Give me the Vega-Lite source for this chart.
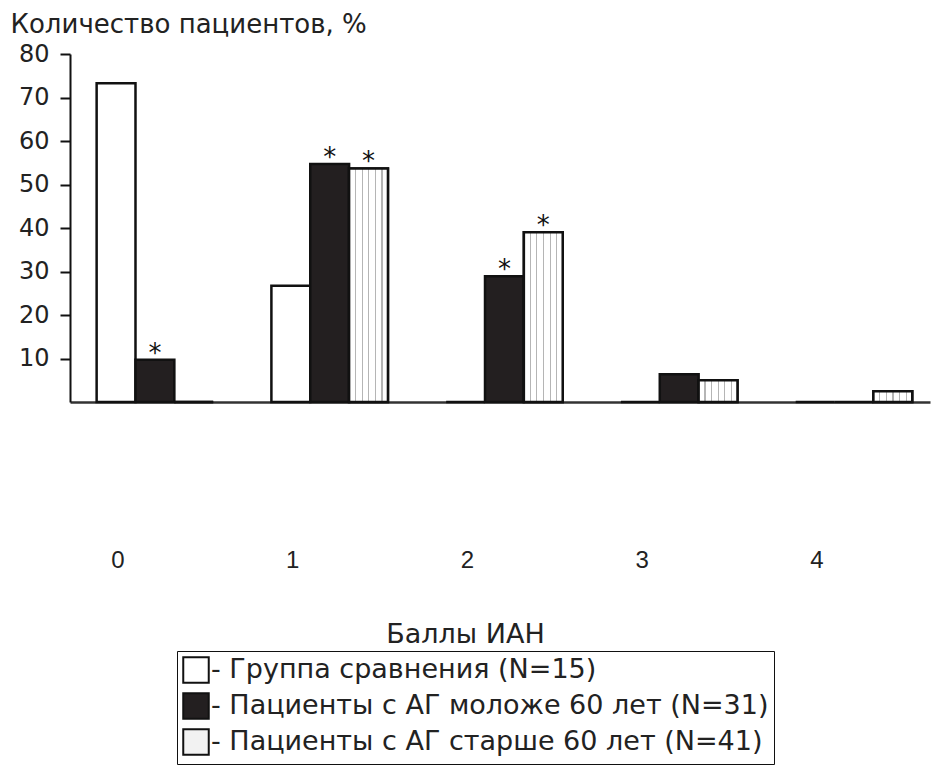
{
  "$schema": "https://vega.github.io/schema/vega-lite/v6.json",
  "width": 860,
  "height": 348,
  "autosize": "none",
  "padding": {"left": 70, "top": 54, "right": 1, "bottom": 365},
  "background": "white",
  "config": {"view": {"stroke": null}},
  "data": {"values": [
    {"score": "0", "group": "Группа сравнения (N=15)", "value": 73.3, "sig": ""},
    {"score": "0", "group": "Пациенты с АГ моложе 60 лет (N=31)", "value": 9.7, "sig": "*"},
    {"score": "0", "group": "Пациенты с АГ старше 60 лет (N=41)", "value": 0, "sig": ""},
    {"score": "1", "group": "Группа сравнения (N=15)", "value": 26.7, "sig": ""},
    {"score": "1", "group": "Пациенты с АГ моложе 60 лет (N=31)", "value": 54.7, "sig": "*"},
    {"score": "1", "group": "Пациенты с АГ старше 60 лет (N=41)", "value": 53.7, "sig": "*"},
    {"score": "2", "group": "Группа сравнения (N=15)", "value": 0, "sig": ""},
    {"score": "2", "group": "Пациенты с АГ моложе 60 лет (N=31)", "value": 28.9, "sig": "*"},
    {"score": "2", "group": "Пациенты с АГ старше 60 лет (N=41)", "value": 39.0, "sig": "*"},
    {"score": "3", "group": "Группа сравнения (N=15)", "value": 0, "sig": ""},
    {"score": "3", "group": "Пациенты с АГ моложе 60 лет (N=31)", "value": 6.4, "sig": ""},
    {"score": "3", "group": "Пациенты с АГ старше 60 лет (N=41)", "value": 5.0, "sig": ""},
    {"score": "4", "group": "Группа сравнения (N=15)", "value": 0, "sig": ""},
    {"score": "4", "group": "Пациенты с АГ моложе 60 лет (N=31)", "value": 0, "sig": ""},
    {"score": "4", "group": "Пациенты с АГ старше 60 лет (N=41)", "value": 2.5, "sig": ""}
  ]},
  "encoding": {
    "x": {
      "field": "score", "type": "nominal",
      "scale": {"paddingInner": 0.333, "paddingOuter": 0.127, "align": 0.6},
      "axis": {
        "labelAngle": 0, "ticks": false, "labelPadding": 146, "labelOffset": -37,
        "labelFont": "Liberation Sans", "labelFontSize": 24, "labelColor": "#222",
        "domainColor": "#333", "domainWidth": 2.5,
        "title": "Баллы ИАН", "titleX": 395, "titleY": 240, "titleBaseline": "alphabetic",
        "titleFont": "DejaVu Sans", "titleFontSize": 27, "titleFontWeight": "normal", "titleColor": "#222"
      }
    },
    "xOffset": {"field": "group", "type": "nominal", "sort": ["Группа сравнения (N=15)", "Пациенты с АГ моложе 60 лет (N=31)", "Пациенты с АГ старше 60 лет (N=41)"]},
    "y": {
      "field": "value", "type": "quantitative",
      "scale": {"domain": [0, 80], "nice": false},
      "axis": {
        "values": [10, 20, 30, 40, 50, 60, 70, 80], "grid": false,
        "domainColor": "#111", "domainWidth": 2, "tickColor": "#111", "tickWidth": 2, "tickSize": 10,
        "labelFont": "DejaVu Sans", "labelFontSize": 24, "labelColor": "#222", "labelPadding": 11,
        "title": "Количество пациентов, %", "titleAngle": 0, "titleAlign": "left", "titleBaseline": "alphabetic",
        "titleX": -60, "titleY": -22, "titleFont": "DejaVu Sans", "titleFontSize": 26, "titleFontWeight": "normal", "titleColor": "#222"
      }
    }
  },
  "layer": [
    {
      "mark": {"type": "bar", "stroke": "#111", "strokeWidth": 2.5},
      "encoding": {
        "fill": {
          "field": "group", "type": "nominal",
          "scale": {
            "domain": ["Группа сравнения (N=15)", "Пациенты с АГ моложе 60 лет (N=31)", "Пациенты с АГ старше 60 лет (N=41)"],
            "range": ["#ffffff", "#231f20", "#f2f2f2"]
          },
          "legend": {
            "orient": "none", "legendX": 107, "legendY": 597, "title": null,
            "labelExpr": "'- ' + datum.label",
            "symbolType": "square", "symbolSize": 650, "symbolStrokeColor": "#111", "symbolStrokeWidth": 2,
            "labelFont": "DejaVu Sans", "labelFontSize": 27, "labelColor": "#222", "labelOffset": 1, "labelLimit": 0,
            "rowPadding": 2, "padding": 5, "strokeColor": "#111", "fillColor": "white", "cornerRadius": 0
          }
        }
      }
    },
    {
      "transform": [{"filter": "datum.group === 'Пациенты с АГ старше 60 лет (N=41)'"}],
      "mark": {"type": "bar", "stroke": "#111", "strokeWidth": 2.5,
        "fill": {"gradient": "linear", "x1": 0, "y1": 0, "x2": 1, "y2": 0, "stops": [
          {"offset": 0, "color": "#ffffff"}, {"offset": 0.15, "color": "#ffffff"},
          {"offset": 0.15, "color": "#b5b5b5"}, {"offset": 0.18, "color": "#b5b5b5"},
          {"offset": 0.18, "color": "#ffffff"}, {"offset": 0.32, "color": "#ffffff"},
          {"offset": 0.32, "color": "#b5b5b5"}, {"offset": 0.35, "color": "#b5b5b5"},
          {"offset": 0.35, "color": "#ffffff"}, {"offset": 0.49, "color": "#ffffff"},
          {"offset": 0.49, "color": "#b5b5b5"}, {"offset": 0.52, "color": "#b5b5b5"},
          {"offset": 0.52, "color": "#ffffff"}, {"offset": 0.66, "color": "#ffffff"},
          {"offset": 0.66, "color": "#b5b5b5"}, {"offset": 0.69, "color": "#b5b5b5"},
          {"offset": 0.69, "color": "#ffffff"}, {"offset": 0.83, "color": "#ffffff"},
          {"offset": 0.83, "color": "#b5b5b5"}, {"offset": 0.86, "color": "#b5b5b5"},
          {"offset": 0.86, "color": "#ffffff"}, {"offset": 1, "color": "#ffffff"}
        ]}},
      "encoding": {}
    },
    {
      "transform": [{"filter": "datum.sig != ''"}],
      "mark": {"type": "text", "baseline": "alphabetic", "dy": 2, "fontSize": 26, "font": "DejaVu Sans", "color": "#111"},
      "encoding": {"text": {"field": "sig"}}
    }
  ]
}
